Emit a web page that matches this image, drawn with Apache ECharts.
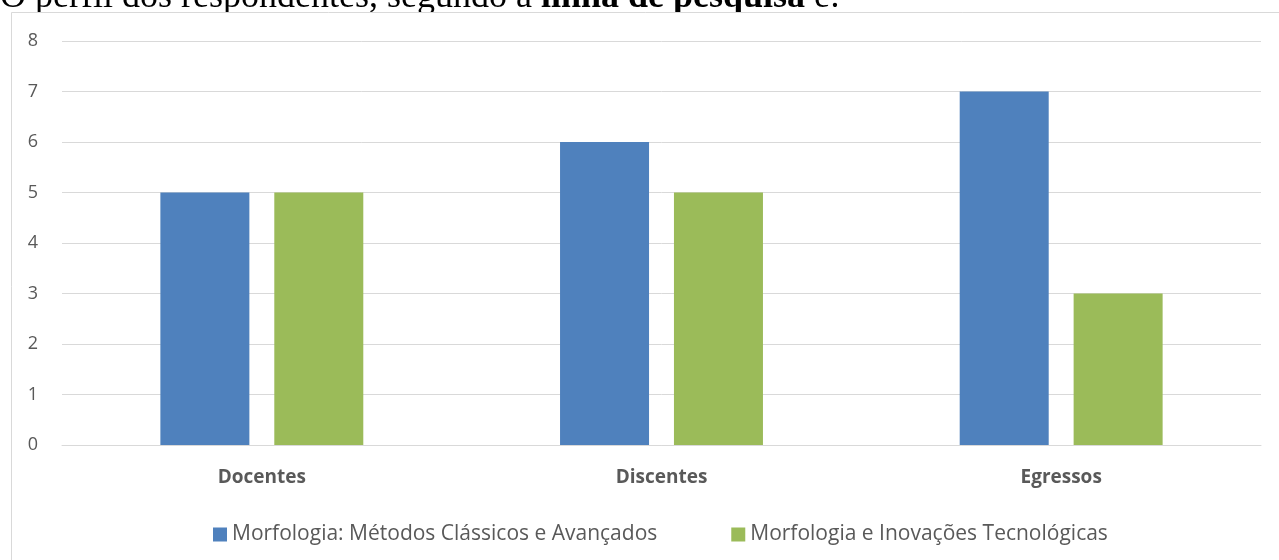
<!DOCTYPE html>
<html>
<head>
<meta charset="utf-8">
<script src="https://cdn.jsdelivr.net/npm/echarts@6/dist/echarts.min.js"></script>
<style>
  html, body { margin: 0; padding: 0; background: #fff; }
  #chart { width: 1279px; height: 560px; }
</style>
</head>
<body>
<div id="chart"></div>
<script>
// categorias e séries
const categories = ['Docentes', 'Discentes', 'Egressos']
const seriesNames = [
  'Morfologia: Métodos Clássicos e Avançados',
  'Morfologia e Inovações Tecnológicas'
]
const classicos = [5, 6, 7]
const inovacoes = [5, 5, 3]
const yTicks = [0, 1, 2, 3, 4, 5, 6, 7, 8]

const colors = ['#4f81bd', '#9bbb59']
const labelFont = '"Open Sans", "Noto Sans", sans-serif'
const serifFont = '"Liberation Serif", serif'

const myChart = echarts.init(document.getElementById('chart'))

const option = {
  color: colors,
  animation: false,
  graphic: [
    {
      // texto do documento, cortado no topo
      type: 'text',
      left: 0,
      top: -20,
      z: -10,
      style: {
        text: '{n|O perfil dos respondentes, segundo a }{b|linha de pesquisa}{n| é:}',
        rich: {
          n: { fontFamily: serifFont, fontSize: 36, fill: '#000' },
          b: { fontFamily: serifFont, fontSize: 36, fontWeight: 'bold', fill: '#000' }
        }
      }
    },
    {
      // moldura do gráfico (cobre as descendentes do texto)
      type: 'rect',
      z: -5,
      shape: { x: 11.5, y: 12.5, width: 1300, height: 600 },
      style: { fill: '#fff', stroke: '#d9d9d9', lineWidth: 1 }
    }
  ],
  legend: {
    data: seriesNames,
    top: 519,
    left: 208,
    icon: 'rect',
    itemWidth: 14,
    itemHeight: 14,
    itemGap: 74,
    textStyle: { fontFamily: labelFont, fontSize: 21, color: '#595959' }
  },
  grid: {
    left: 62,
    right: 18,
    top: 41,
    bottom: 115,
    containLabel: false
  },
  xAxis: {
    type: 'category',
    data: categories,
    axisLine: { lineStyle: { color: '#d9d9d9', width: 1 } },
    axisTick: { show: false },
    axisLabel: {
      fontFamily: labelFont,
      fontSize: 19,
      fontWeight: 'bold',
      color: '#595959',
      margin: 23
    }
  },
  yAxis: {
    type: 'value',
    min: yTicks[0],
    max: yTicks[yTicks.length - 1],
    interval: 1,
    axisLine: { show: false },
    axisTick: { show: false },
    axisLabel: {
      fontFamily: labelFont,
      fontSize: 18,
      color: '#595959',
      margin: 24,
      align: 'right'
    },
    splitLine: { lineStyle: { color: '#d9d9d9', width: 1 } }
  },
  series: [
    {
      name: seriesNames[0],
      type: 'bar',
      data: classicos,
      barWidth: 89,
      barGap: '28%'
    },
    {
      name: seriesNames[1],
      type: 'bar',
      data: inovacoes,
      barWidth: 89,
      barGap: '28%'
    }
  ]
}

myChart.setOption(option)
</script>
</body>
</html>
